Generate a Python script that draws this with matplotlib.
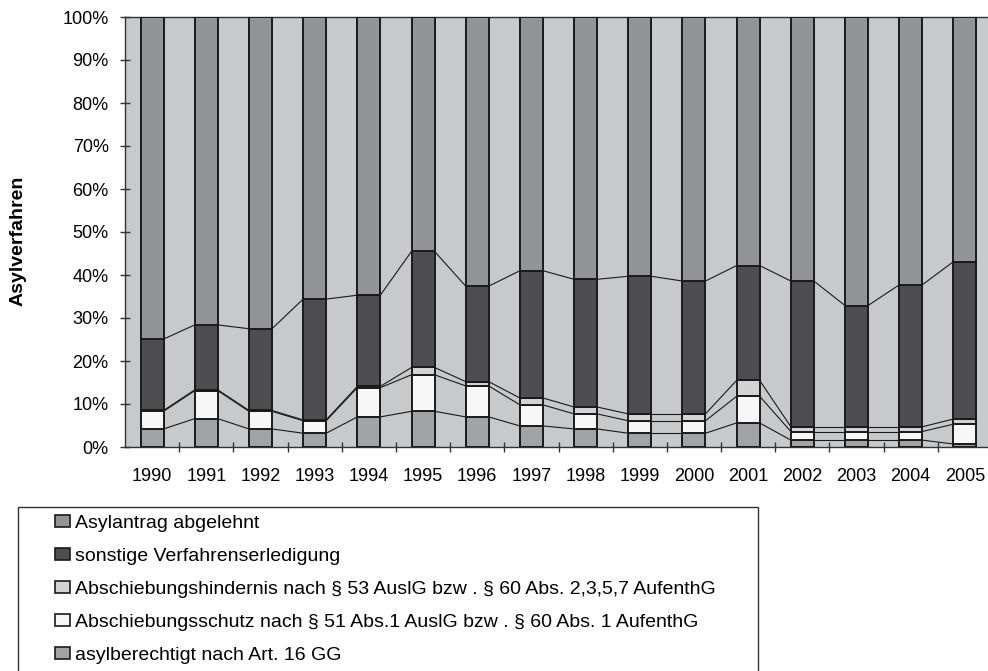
import matplotlib.pyplot as plt
from matplotlib.patches import Rectangle
import numpy as np

plt.rcParams['font.family'] = ['Liberation Sans', 'DejaVu Sans']

jahre = ['1990', '1991', '1992', '1993', '1994', '1995', '1996', '1997',
         '1998', '1999', '2000', '2001', '2002', '2003', '2004', '2005']

# Anteile in Prozent, von unten nach oben gestapelt
asylberechtigt = [4.2, 6.6, 4.2, 3.2, 7.0, 8.3, 7.0, 4.9, 4.2, 3.2, 3.2, 5.6, 1.6, 1.6, 1.6, 0.7]
schutz = [4.1, 6.5, 4.1, 2.9, 6.8, 8.5, 7.2, 4.9, 3.5, 2.9, 2.9, 6.2, 2.0, 2.0, 2.0, 4.6]
hindernis = [0.2, 0.2, 0.2, 0.2, 0.3, 1.7, 1.0, 1.6, 1.6, 1.6, 1.6, 3.7, 1.1, 1.1, 1.1, 1.2]
sonstige = [16.6, 15.1, 19.0, 28.1, 21.2, 27.0, 22.2, 29.6, 29.7, 32.0, 30.9, 26.7, 33.9, 28.2, 33.0, 36.6]
abgelehnt = [74.9, 71.6, 72.5, 65.6, 64.7, 54.5, 62.6, 59.0, 61.0, 60.3, 61.4, 57.8, 61.4, 67.1, 62.3, 56.9]

serien = [
    ('asylberechtigt nach Art. 16 GG', asylberechtigt, '#a2a3a6'),
    ('Abschiebungsschutz nach § 51 Abs.1 AuslG bzw . § 60 Abs. 1 AufenthG', schutz, '#f7f7f7'),
    ('Abschiebungshindernis nach § 53 AuslG bzw . § 60 Abs. 2,3,5,7 AufenthG', hindernis, '#d2d3d5'),
    ('sonstige Verfahrenserledigung', sonstige, '#4e4e50'),
    ('Asylantrag abgelehnt', abgelehnt, '#939497'),
]

werte = np.array([s[1] for s in serien], dtype=float)
anteile = werte / werte.sum(axis=0) * 100

W, H = 988, 671
fig = plt.figure(figsize=(W / 100, H / 100), dpi=100)
ax = fig.add_axes([125 / W, 1 - 447 / H, 867 / W, 430 / H])
ax.set_facecolor('#c8c9cb')

x = np.arange(len(jahre))
breite = 0.424
unten = np.zeros(len(jahre))
for (name, _, farbe), anteil in zip(serien, anteile):
    ax.bar(x, anteil, breite, bottom=unten, color=farbe,
           edgecolor='#1a1a1a', linewidth=1.4, label=name, zorder=3)
    unten = unten + anteil
    # Reihenverbindungslinien zwischen den Balken
    if name != 'Asylantrag abgelehnt':
        for i in range(len(jahre) - 1):
            ax.plot([x[i] + breite / 2, x[i + 1] - breite / 2],
                    [unten[i], unten[i + 1]], color='#1a1a1a',
                    linewidth=0.8, zorder=2)

ax.set_xlim(-0.5, len(jahre) - 0.5)
ax.set_ylim(0, 100)
ax.set_yticks(np.arange(0, 101, 10))
ax.set_yticklabels([f'{v}%' for v in range(0, 101, 10)])
ax.set_xticks(x)
ax.set_xticklabels(jahre)
ax.set_xticks(np.arange(0.5, len(jahre) - 1, 1), minor=True)
ax.tick_params(axis='x', which='major', length=0, pad=15, labelsize=13)
ax.tick_params(axis='x', which='minor', direction='inout', length=7.5, width=1, color='#333333')
ax.tick_params(axis='y', direction='inout', length=7.5, width=1, color='#333333',
               pad=8, labelsize=13)
for s in ax.spines.values():
    s.set_color('#333333')
    s.set_linewidth(1)

fig.text(18 / W, 1 - 241 / H, 'Asylverfahren', rotation=90, ha='center',
         va='center', fontsize=14, fontweight='bold')

# Legendenrahmen, unten vom Bildrand abgeschnitten
fig.add_artist(Rectangle((18 / W, -0.05), 740 / W, 0.05 + (H - 507) / H,
                         transform=fig.transFigure, facecolor='white',
                         edgecolor='#333333', linewidth=1, clip_on=False))

handles, labels = ax.get_legend_handles_labels()
leg = fig.legend(handles[::-1], labels[::-1], loc='upper left',
                 bbox_to_anchor=(55 / W, 1 - 515 / H), frameon=False,
                 fontsize=14, borderpad=0, borderaxespad=0,
                 handlelength=0.75, handleheight=0.6, handletextpad=0.3,
                 labelspacing=0.82)
for h in leg.legend_handles:
    h.set_linewidth(1.2)

fig.savefig('out.png', dpi=100)
